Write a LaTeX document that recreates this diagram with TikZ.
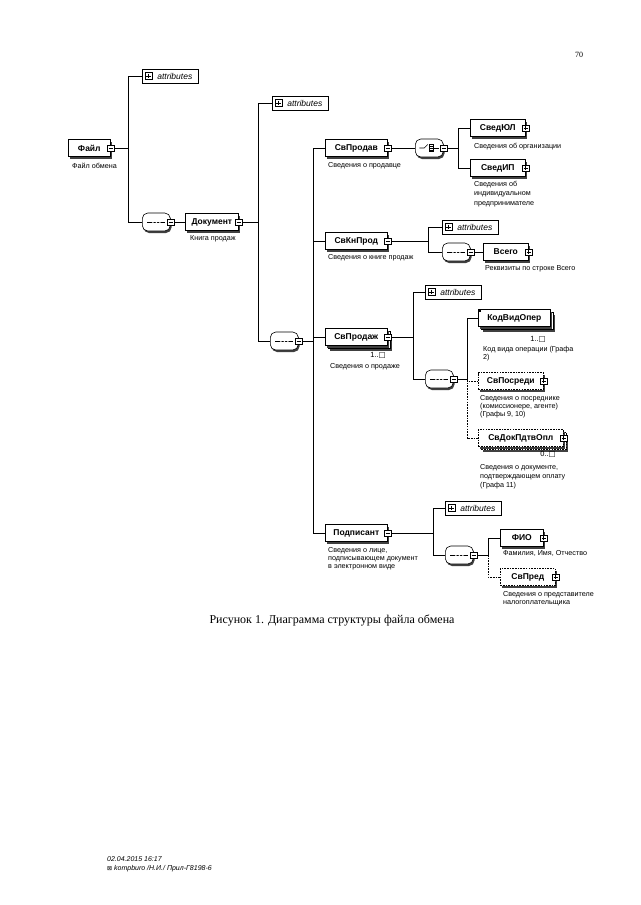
\documentclass[tikz,border=0pt]{standalone}
\usepackage{fontspec}
\setmainfont{Liberation Serif}
\setsansfont{Liberation Sans}
\newfontfamily\djv{DejaVu Sans}
\usetikzlibrary{shapes.misc,shadows}
\tikzset{
  shd/.style={drop shadow={shadow xshift=1.2pt,shadow yshift=-2pt,fill=black!75,opacity=1}},
  elbox/.style={draw,fill=white,rectangle,anchor=west,minimum height=17pt,inner xsep=3pt,inner ysep=0pt,line width=0.6pt,font=\sffamily\bfseries\fontsize{8.5}{9}\selectfont,shd},
  optl/.style={dash pattern=on 1.6pt off 1.1pt},
  ln/.style={line width=0.6pt},
  sgn/.style={draw,fill=white,minimum size=6.5pt,inner sep=0pt,line width=0.5pt,solid,rounded corners=0pt},
  sgnm/.style={sgn,path picture={\draw[line width=0.5pt] ([xshift=1.2pt]path picture bounding box.west) -- ([xshift=-1.2pt]path picture bounding box.east);}},
  sgnp/.style={sgn,path picture={\draw[line width=0.5pt] ([xshift=1.2pt]path picture bounding box.west) -- ([xshift=-1.2pt]path picture bounding box.east) ([yshift=-1.2pt]path picture bounding box.north) -- ([yshift=1.2pt]path picture bounding box.south);}},
  attrbox/.style={draw,fill=white,anchor=west,minimum height=14pt,minimum width=56pt,inner xsep=3pt,inner ysep=0pt,line width=0.6pt,font=\sffamily\itshape\fontsize{8.5}{9}\selectfont},
  comp/.style={rectangle,rounded corners=5.5pt,draw,fill=white,anchor=west,minimum width=28pt,minimum height=18pt,inner sep=0pt,line width=0.6pt,shd},
  seqc/.style={comp,path picture={
     \draw[line width=0.6pt,sharp corners] ([xshift=-9pt]path picture bounding box.center) -- ([xshift=9pt]path picture bounding box.center);
     \foreach \dd in {-3.5,0,3.5} \fill ([xshift=\dd pt]path picture bounding box.center) circle (1pt);}},
  choicec/.style={comp,path picture={
     \draw[line width=0.6pt,sharp corners] ([xshift=-10pt]path picture bounding box.center) -- ([xshift=-5pt]path picture bounding box.center) -- ([xshift=-1.5pt,yshift=3.5pt]path picture bounding box.center);
     \draw[line width=0.5pt,sharp corners] ([xshift=0pt,yshift=-3.5pt]path picture bounding box.center) rectangle ([xshift=4pt,yshift=3.5pt]path picture bounding box.center);
     \draw[line width=0.5pt,sharp corners] ([yshift=2pt]path picture bounding box.center) -- ([xshift=4pt,yshift=2pt]path picture bounding box.center)
        (path picture bounding box.center) -- ([xshift=10pt]path picture bounding box.center)
        ([yshift=-2pt]path picture bounding box.center) -- ([xshift=4pt,yshift=-2pt]path picture bounding box.center);}},
  lbl/.style={anchor=north west,inner sep=0pt,align=left,font=\sffamily\fontsize{7.2}{8.5}\selectfont},
  occ/.style={anchor=north east,inner sep=0pt,font=\sffamily\fontsize{7.5}{8}\selectfont}
}
\begin{document}
\begin{tikzpicture}[x=1pt,y=-1pt]
\fill[white] (0,0) rectangle (640,905);
\useasboundingbox (0,0) rectangle (640,905);

\node[font=\fontsize{8}{9}\selectfont] (pg) at (579,55) {70};

% ---- root
\node[elbox,minimum width=42pt] (f) at (68,148) {Файл};
\node[sgnm] (f-s) at (f.east) {};
\node[lbl] (f-l) at (72,163) {Файл обмена};

\node[attrbox] (a1) at (142,76) {\hspace*{9pt}attributes};
\node[sgnp,minimum size=7pt] (a1-i) at ([xshift=6.5pt]a1.west) {};

\node[seqc] (q1) at (142,222) {};
\node[sgnm] (q1-s) at (q1.east) {};
\node[elbox,minimum width=53pt] (d) at (185,222) {Документ};
\node[sgnm] (d-s) at (d.east) {};
\node[lbl] (d-l) at (190,235) {Книга продаж};

\draw[ln] (f-s.east) -| ([xshift=-14pt]a1.west) -- (a1.west);
\draw[ln] (f-s.east) -| ([xshift=-14pt]q1.west) -- (q1.west);
\draw[ln] (q1-s.east) -- (d.west);

% ---- Документ children
\node[attrbox] (a2) at (272,103) {\hspace*{9pt}attributes};
\node[sgnp,minimum size=7pt] (a2-i) at ([xshift=6.5pt]a2.west) {};
\node[seqc] (q2) at (270,341) {};
\node[sgnm] (q2-s) at (q2.east) {};
\draw[ln] (d-s.east) -| ([xshift=-14pt]a2.west) -- (a2.west);
\draw[ln] (d-s.east) -| ([xshift=-12pt]q2.west) -- (q2.west);

% ---- level 3
\node[elbox,minimum width=62pt] (sp) at (325,148) {СвПродав};
\node[sgnm] (sp-s) at (sp.east) {};
\node[lbl] (sp-l) at (328,162) {Сведения о продавце};

\node[elbox,minimum width=62pt] (kn) at (325,241) {СвКнПрод};
\node[sgnm] (kn-s) at (kn.east) {};
\node[lbl] (kn-l) at (328,254) {Сведения о книге продаж};

\node[elbox,minimum width=62pt] (prb) at (328,340) {\phantom{СвПродаж}};
\node[elbox,minimum width=62pt] (pr) at (325,337) {СвПродаж};
\node[sgnm] (pr-s) at (pr.east) {};
\node[occ] (pr-o) at (386,352) {1..{\djv □}};
\node[lbl] (pr-l) at (330,363) {Сведения о продаже};

\node[elbox,minimum width=62pt] (pd) at (325,533) {Подписант};
\node[sgnm] (pd-s) at (pd.east) {};
\node[lbl,font=\sffamily\fontsize{7.2}{8}\selectfont] (pd-l) at (328,547) {Сведения о лице,\\подписывающем документ\\в электронном виде};

\draw[ln] (q2-s.east) -| ([xshift=-12pt]sp.west) -- (sp.west);
\draw[ln] (q2-s.east) -| ([xshift=-12pt]kn.west) -- (kn.west);
\draw[ln] (q2-s.east) -| ([xshift=-12pt]pr.west) -- (pr.west);
\draw[ln] (q2-s.east) -| ([xshift=-12pt]pd.west) -- (pd.west);

% ---- СвПродав
\node[choicec] (c1) at (415,148) {};
\node[sgnm] (c1-s) at (c1.east) {};
\draw[ln] (sp-s.east) -- (c1.west);
\node[elbox,minimum width=55pt] (ul) at (470,128) {СведЮЛ};
\node[sgnp] (ul-s) at (ul.east) {};
\node[lbl] (ul-l) at (474,143) {Сведения об организации};
\node[elbox,minimum width=55pt] (ip) at (470,168) {СведИП};
\node[sgnp] (ip-s) at (ip.east) {};
\node[lbl,font=\sffamily\fontsize{7.2}{9.5}\selectfont] (ip-l) at (474,181) {Сведения об\\индивидуальном\\предпринимателе};
\draw[ln] (c1-s.east) -| ([xshift=-12pt]ul.west) -- (ul.west);
\draw[ln] (c1-s.east) -| ([xshift=-12pt]ip.west) -- (ip.west);

% ---- СвКнПрод
\node[attrbox] (a3) at (442,227) {\hspace*{9pt}attributes};
\node[sgnp,minimum size=7pt] (a3-i) at ([xshift=6.5pt]a3.west) {};
\node[seqc] (q3) at (442,252) {};
\node[sgnm] (q3-s) at (q3.east) {};
\draw[ln] (kn-s.east) -| ([xshift=-14pt]a3.west) -- (a3.west);
\draw[ln] (kn-s.east) -| ([xshift=-14pt]q3.west) -- (q3.west);
\node[elbox,minimum width=45pt] (vs) at (483,252) {Всего};
\node[sgnp] (vs-s) at (vs.east) {};
\node[lbl] (vs-l) at (485,265) {Реквизиты по строке Всего};
\draw[ln] (q3-s.east) -- (vs.west);

% ---- СвПродаж
\node[attrbox] (a4) at (425,292) {\hspace*{9pt}attributes};
\node[sgnp,minimum size=7pt] (a4-i) at ([xshift=6.5pt]a4.west) {};
\node[seqc] (q4) at (425,379) {};
\node[sgnm] (q4-s) at (q4.east) {};
\draw[ln] (pr-s.east) -| ([xshift=-12pt]a4.west) -- (a4.west);
\draw[ln] (pr-s.east) -| ([xshift=-12pt]q4.west) -- (q4.west);

\node[elbox,minimum width=72pt] (kvb) at (481,321) {\phantom{КодВидОпер}};
\node[elbox,minimum width=72pt] (kv) at (478,318) {КодВидОпер};
\fill (kv.north west) rectangle ++(3,3);
\node[occ] (kv-o) at (546,336) {1..{\djv □}};
\node[lbl,font=\sffamily\fontsize{7.2}{8}\selectfont] (kv-l) at (483,346) {Код вида операции (Графа\\2)};

\node[elbox,optl,minimum width=65pt] (ps) at (478,381) {СвПосреди};
\node[sgnp] (ps-s) at (ps.east) {};
\node[lbl,font=\sffamily\fontsize{7.2}{8}\selectfont] (ps-l) at (480,395) {Сведения о посреднике\\(комиссионере, агенте)\\(Графы 9, 10)};

\node[elbox,optl,minimum width=85pt] (dkb) at (481,441) {\phantom{СвДокПдтвОпл}};
\node[elbox,optl,minimum width=85pt] (dk) at (478,438) {СвДокПдтвОпл};
\node[sgnp] (dk-s) at (dk.east) {};
\node[occ] (dk-o) at (556,451) {0..{\djv □}};
\node[lbl,font=\sffamily\fontsize{7.2}{9}\selectfont] (dk-l) at (480,464) {Сведения о документе,\\подтверждающем оплату\\(Графа 11)};

\draw[ln] (q4-s.east) -| ([xshift=-11pt]kv.west) -- (kv.west);
\draw[ln,optl] (q4-s.east) -| ([xshift=-11pt]ps.west) -- (ps.west);
\draw[ln,optl] (q4-s.east) -| ([xshift=-11pt]dk.west) -- (dk.west);

% ---- Подписант
\node[attrbox] (a5) at (445,508) {\hspace*{9pt}attributes};
\node[sgnp,minimum size=7pt] (a5-i) at ([xshift=6.5pt]a5.west) {};
\node[seqc] (q5) at (445,555) {};
\node[sgnm] (q5-s) at (q5.east) {};
\draw[ln] (pd-s.east) -| ([xshift=-12pt]a5.west) -- (a5.west);
\draw[ln] (pd-s.east) -| ([xshift=-12pt]q5.west) -- (q5.west);

\node[elbox,minimum width=43pt] (fio) at (500,538) {ФИО};
\node[sgnp] (fio-s) at (fio.east) {};
\node[lbl] (fio-l) at (503,550) {Фамилия, Имя, Отчество};
\node[elbox,optl,minimum width=55pt] (spr) at (500,577) {СвПред};
\node[sgnp] (spr-s) at (spr.east) {};
\node[lbl,font=\sffamily\fontsize{7.2}{8}\selectfont] (spr-l) at (503,591) {Сведения о представителе\\налогоплательщика};
\draw[ln] (q5-s.east) -| ([xshift=-12pt]fio.west) -- (fio.west);
\draw[ln,optl] (q5-s.east) -| ([xshift=-12pt]spr.west) -- (spr.west);

% ---- caption & footer
\node[font=\fontsize{12}{14}\selectfont] (cap) at (332,620) {Рисунок 1. Диаграмма структуры файла обмена};
\node[anchor=north west,inner sep=0pt,align=left,font=\sffamily\itshape\fontsize{7}{9}\selectfont] (ft) at (107,856) {02.04.2015 16:17\\{\djv\upshape\fontsize{6}{9}\selectfont ⊠} kompburo /Н.И./ Прил-Г8198-6};
\end{tikzpicture}
\end{document}
